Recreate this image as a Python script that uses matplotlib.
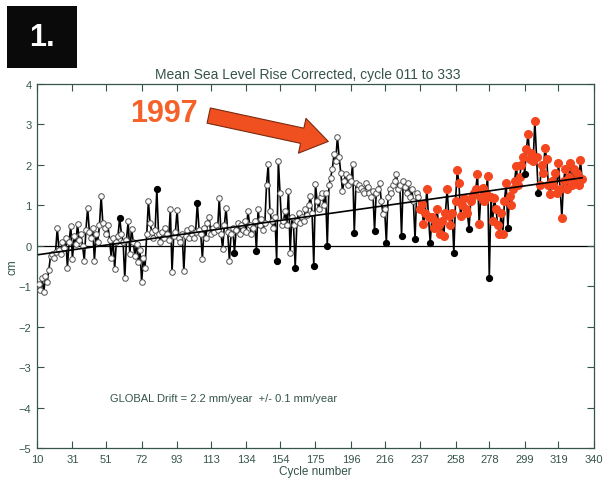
import numpy as np
import matplotlib
matplotlib.use('Agg')
import matplotlib.pyplot as plt
from matplotlib.patches import Rectangle

plt.rcParams['font.family'] = ['Liberation Sans', 'DejaVu Sans']

# mean sea level (cm) per altimeter cycle, 11..333
cycles = np.arange(11, 334)
sea_level = [
    -0.95, -1.10, -0.80, -1.15, -0.75, -0.90, -0.60, -0.25, -0.20, -0.30,   # 11-20
    -0.15, 0.44, -0.10, -0.20, 0.10, -0.05, 0.20, -0.54, 0.10, 0.49,        # 21-30
    -0.33, 0.25, 0.05, 0.54, 0.15, 0.30, 0.00, -0.37, 0.40, 0.94,           # 31-40
    0.35, 0.20, 0.45, -0.37, 0.30, 0.10, 0.50, 1.23, 0.55, 0.45,            # 41-50
    0.30, 0.50, 0.15, -0.30, 0.20, -0.57, 0.10, 0.25, 0.69, 0.30,           # 51-60
    0.10, -0.81, 0.15, 0.60, -0.20, 0.42, 0.10, -0.25, 0.05, -0.40,         # 61-70
    -0.10, -0.90, -0.30, -0.55, 0.30, 1.10, 0.55, 0.35, 0.20, 0.40,         # 71-80
    1.40, 0.30, 0.10, 0.35, 0.20, 0.45, 0.30, 0.15, 0.90, -0.65,            # 81-90
    0.25, 0.35, 0.88, 0.20, 0.10, 0.30, -0.62, 0.25, 0.40, 0.20,            # 91-100
    0.45, 0.30, 0.20, 0.35, 1.06, 0.40, 0.30, -0.32, 0.45, 0.20,            # 101-110
    0.55, 0.70, 0.30, 0.45, 0.35, 0.50, 0.40, 1.19, 0.30, -0.07,            # 111-120
    0.50, 0.94, 0.35, -0.37, 0.30, 0.45, -0.17, 0.40, 0.55, 0.30,           # 121-130
    0.50, 0.40, 0.60, 0.35, 0.86, 0.50, 0.30, 0.45, 0.60, -0.12,            # 131-140
    0.91, 0.50, 0.65, 0.40, 0.55, 1.50, 2.02, 0.86, 0.60, 0.45,             # 141-150
    0.70, -0.37, 2.10, 1.30, 0.50, 0.60, 0.85, 0.50, 1.36, -0.17,           # 151-160
    0.70, 0.50, -0.54, 0.60, 0.80, 0.55, 0.70, 0.60, 0.90, 0.75,            # 161-170
    1.00, 1.23, 0.80, -0.49, 1.53, 1.10, 0.90, 1.20, 1.30, 1.00,            # 171-180
    1.30, 0.00, 1.50, 1.68, 1.90, 2.27, 2.10, 2.69, 2.20, 1.80,             # 181-190
    1.36, 1.60, 1.78, 1.50, 1.70, 1.60, 2.02, 0.32, 1.55, 1.40,             # 191-200
    1.50, 1.43, 1.35, 1.30, 1.56, 1.45, 1.30, 1.20, 1.35, 0.37,             # 201-210
    1.30, 1.40, 1.56, 1.10, 0.79, 0.90, 0.07, 1.20, 1.40, 1.30,             # 211-220
    1.50, 1.60, 1.78, 1.40, 1.50, 0.25, 1.60, 1.45, 1.30, 1.55,             # 221-230
    1.20, 1.40, 1.10, 0.17, 1.30, 1.20, 0.90, 1.04, 0.54, 0.80,             # 231-240
    1.40, 0.70, 0.07, 0.70, 0.45, 0.60, 0.91, 0.50, 0.30, 0.60,             # 241-250
    0.25, 0.80, 1.40, 0.74, 0.50, 0.80, -0.17, 1.10, 1.87, 1.56,            # 251-260
    0.74, 1.00, 1.19, 0.90, 0.80, 0.42, 1.10, 1.20, 1.30, 1.40,             # 261-270
    1.78, 0.54, 1.20, 1.43, 1.10, 1.30, 1.73, -0.79, 1.20, 0.62,            # 271-280
    1.19, 0.90, 0.50, 0.30, 0.80, 0.30, 1.10, 1.56, 0.45, 1.23,             # 281-290
    1.00, 1.40, 1.60, 1.98, 1.50, 1.70, 2.00, 2.20, 1.78, 2.40,             # 291-300
    2.77, 2.15, 2.30, 2.10, 3.09, 2.20, 1.31, 1.50, 2.00, 1.80,             # 301-310
    2.42, 2.15, 1.50, 1.28, 1.60, 1.50, 1.80, 1.30, 2.05, 1.40,             # 311-320
    0.69, 1.60, 1.90, 1.40, 1.70, 2.05, 1.50, 1.90, 1.60, 1.80,             # 321-330
    1.50, 2.12, 1.65,                                                       # 331-333
]
sea_level = np.array(sea_level)

# cycles flagged with solid black markers
flagged_cycles = [59, 81, 105, 127, 140, 152, 163, 174, 182, 198, 210, 217,
                  226, 234, 243, 257, 266, 278, 289, 299, 307]
# from this cycle on the points are shown in red
red_from = 237

trend_cycles = [11, 333]
trend_cm = [-0.22, 1.68]

x_ticks = [10, 31, 51, 72, 93, 113, 134, 154, 175, 196, 216, 237, 258, 278, 299, 319, 340]
y_ticks = [-5, -4, -3, -2, -1, 0, 1, 2, 3, 4]

axis_col = '#35544b'

fig = plt.figure(figsize=(6.04, 4.81), dpi=100)
ax = fig.add_axes([0.0613, 0.0665, 0.922, 0.757])

flagged = np.isin(cycles, flagged_cycles)
late = cycles >= red_from

ax.axhline(0, color='k', lw=0.9, zorder=1)
ax.plot(cycles, sea_level, color='k', lw=1.2, zorder=2)
ax.plot(cycles[~flagged & ~late], sea_level[~flagged & ~late], 'o', ms=4,
        mfc='white', mec='#505050', mew=0.7, zorder=3)
ax.plot(cycles[~flagged & late], sea_level[~flagged & late], 'o', ms=5.5,
        color='#f4461f', mec='#f4461f', zorder=4)
ax.plot(cycles[flagged], sea_level[flagged], 'o', ms=4.2, color='k', zorder=4)
ax.plot(trend_cycles, trend_cm, color='k', lw=1.2, zorder=5)

ax.set_xlim(10, 340)
ax.set_ylim(-5, 4)
ax.set_xticks(x_ticks)
ax.set_xticklabels([str(t) for t in x_ticks])
ax.set_yticks(y_ticks)
ax.tick_params(direction='in', length=5, width=0.8, top=True, right=True,
               labelsize=8, colors=axis_col, pad=4)
for s in ax.spines.values():
    s.set_color(axis_col)
    s.set_linewidth(0.9)

ax.set_title('Mean Sea Level Rise Corrected, cycle 011 to 333', fontsize=10,
             color=axis_col, pad=4, x=0.486)
ax.set_xlabel('Cycle number', fontsize=8.5, color=axis_col, labelpad=1)
ax.set_ylabel('cm', fontsize=8.5, color=axis_col, labelpad=0)
ax.text(0.131, 0.128, 'GLOBAL Drift = 2.2 mm/year  +/- 0.1 mm/year',
        transform=ax.transAxes, fontsize=8, color=axis_col)

# panel number badge
fig.patches.append(Rectangle((7, 412), 70, 62, transform=None,
                             facecolor='#0a0a0a', edgecolor='none'))
fig.text(42, 443, '1.', transform=None, color='white', fontsize=22,
         fontweight='bold', ha='center', va='center')

# 1997 callout
fig.text(164, 367, '1997', transform=None, color='#f4622a', fontsize=22,
         fontweight='bold', ha='center', va='center')
ax.annotate('', xy=(331, 338), xycoords='figure pixels',
            xytext=(206, 365), textcoords='figure pixels',
            arrowprops=dict(arrowstyle='simple,head_length=1.2,head_width=1.6,tail_width=0.7',
                            mutation_scale=16, fc='#f0501f', ec='#7a2a10', lw=0.8))

fig.savefig('out.png', dpi=100)
